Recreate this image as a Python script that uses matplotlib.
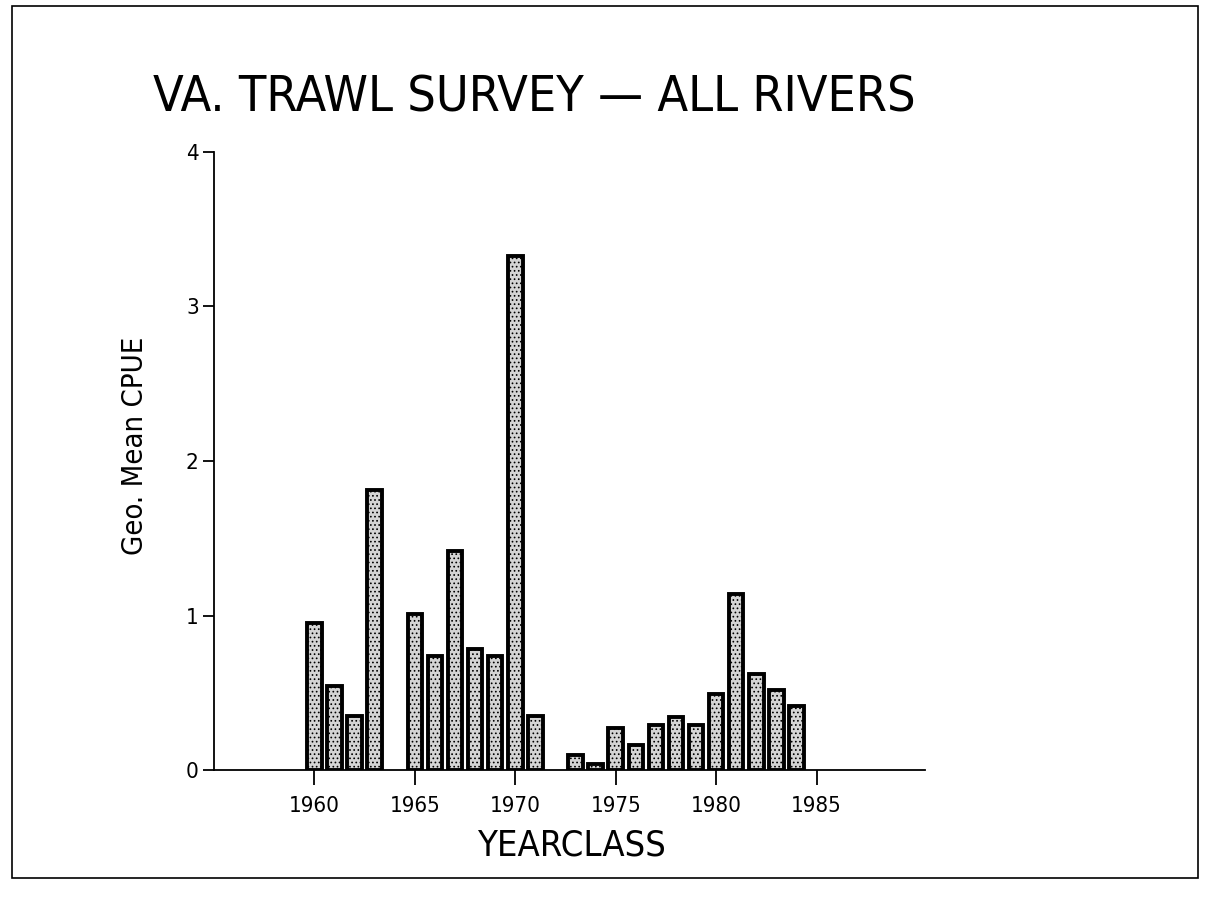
import matplotlib
matplotlib.use("Agg")
import matplotlib.pyplot as plt
from matplotlib.patches import Rectangle

# data
years = [1960, 1961, 1962, 1963,
         1965, 1966, 1967, 1968, 1969, 1970, 1971,
         1973, 1974, 1975, 1976, 1977, 1978, 1979, 1980, 1981, 1982, 1983, 1984]
cpue = [0.95, 0.545, 0.35, 1.81,
        1.01, 0.74, 1.42, 0.78, 0.74, 3.33, 0.35,
        0.10, 0.04, 0.27, 0.16, 0.29, 0.34, 0.29, 0.49, 1.14, 0.62, 0.52, 0.415]
xticks = [1960, 1965, 1970, 1975, 1980, 1985]
yticks = [0, 1, 2, 3, 4]

plt.rcParams["font.family"] = ["DejaVu Sans"]
plt.rcParams["font.stretch"] = "condensed"
plt.rcParams["hatch.linewidth"] = 0.7

W, H = 1205, 913
fig = plt.figure(figsize=(W / 100, H / 100), dpi=100)
fig.patch.set_facecolor("white")

# outer frame of the page
fig.add_artist(Rectangle((12 / W, 1 - 878 / H), (1198 - 12) / W, (878 - 6) / H,
                         transform=fig.transFigure, fill=False, edgecolor="black", linewidth=1.2))

ax = fig.add_axes([214 / W, 1 - 770 / H, (925 - 214) / W, (770 - 152) / H])
ax.bar(years, cpue, width=0.72, color="#d4d4d4", edgecolor="black",
       linewidth=2.8, hatch="....")

ax.set_xlim(1955, 1990.4)
ax.set_ylim(0, 4)
ax.set_xticks(xticks)
ax.set_yticks(yticks)
for s in ["top", "right"]:
    ax.spines[s].set_visible(False)
ax.spines["left"].set_linewidth(1.3)
ax.spines["bottom"].set_linewidth(1.3)
ax.tick_params(axis="x", length=11, width=1.3, labelsize=16, pad=8)
ax.tick_params(axis="y", length=8, width=1.3, labelsize=16, pad=3)

fig.text(571 / W, 1 - 855 / H, "YEARCLASS", ha="center", va="baseline", fontsize=26)
fig.text(135 / W, 1 - 446 / H, "Geo. Mean CPUE", ha="center", va="center",
         rotation=90, fontsize=21)
fig.text(534 / W, 1 - 112 / H, "VA. TRAWL SURVEY \u2014 ALL RIVERS",
         ha="center", va="baseline", fontsize=36)

fig.savefig("out.png", dpi=100)
